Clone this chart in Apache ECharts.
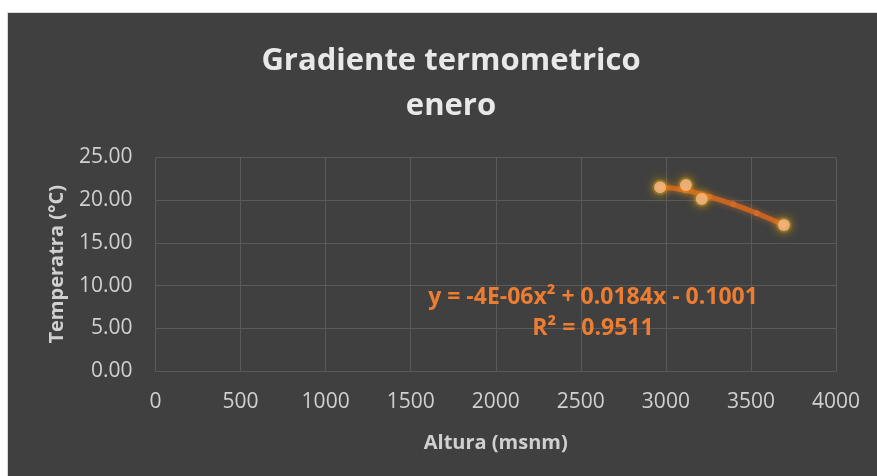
<!DOCTYPE html>
<html>
<head>
<meta charset="utf-8">
<script src="https://cdn.jsdelivr.net/npm/echarts@6/dist/echarts.min.js"></script>
<style>
html,body{margin:0;padding:0;background:#fff;}
#c{width:877px;height:476px;}
</style>
</head>
<body>
<div id="c"></div>
<script>
// Observed data (altitude m, temperature °C)
const altitudes = [2966, 3118, 3211, 3694];
const temperatures = [21.51, 21.78, 20.14, 17.10];
// Polynomial trendline
const trendAltitudes = [2966, 3117, 3255, 3396, 3534, 3694];
const trendTemps = [21.55, 21.16, 20.41, 19.52, 18.47, 17.10];
// Axis ticks
const xTicks = [0, 500, 1000, 1500, 2000, 2500, 3000, 3500, 4000];
const yTicks = [0, 5, 10, 15, 20, 25];
const titleText = 'Gradiente termometrico\nenero';
const xName = 'Altura (msnm)';
const yName = 'Temperatra (°C)';
const eqText = 'y = -4E-06x² + 0.0184x - 0.1001';
const r2Text = 'R² = 0.9511';

const chart = echarts.init(document.getElementById('c'), null, {renderer: 'canvas'});
const F = '"Open Sans", "Noto Sans", sans-serif';
const gridColor = '#5a5a5a';
const labelColor = '#d0d0d0';
const points = altitudes.map((x, i) => [x, temperatures[i]]);

const option = {
  backgroundColor: '#ffffff',
  animation: false,
  graphic: [
    {type: 'rect', z: -100, shape: {x: 7, y: 12, width: 870, height: 464}, style: {fill: '#d9d9d9'}},
    {type: 'rect', z: -99, shape: {x: 8, y: 13, width: 869, height: 463}, style: {fill: '#404040'}},
    {type: 'text', z: 100, x: 593, y: 297, style: {text: eqText, fill: '#ED7D31', font: 'bold 23px ' + F, align: 'center', verticalAlign: 'middle'}},
    {type: 'text', z: 100, x: 593, y: 328, style: {text: r2Text, fill: '#ED7D31', font: 'bold 23px ' + F, align: 'center', verticalAlign: 'middle'}}
  ],
  title: {
    text: titleText,
    left: 446,
    top: 34,
    textAlign: 'center',
    textStyle: {color: '#e8e8e8', fontFamily: F, fontWeight: 'bold', fontSize: 31, lineHeight: 45}
  },
  grid: {left: 155.5, right: 41, top: 157.5, bottom: 105, containLabel: false},
  xAxis: {
    type: 'value',
    min: xTicks[0], max: xTicks[xTicks.length - 1], interval: 500,
    name: xName, nameLocation: 'middle', nameGap: 62,
    nameTextStyle: {color: labelColor, fontFamily: F, fontWeight: 'bold', fontSize: 20},
    axisLine: {show: true, lineStyle: {color: gridColor, width: 1}},
    axisTick: {show: false},
    axisLabel: {color: labelColor, fontFamily: F, fontSize: 21, margin: 21, formatter: v => String(v)},
    splitLine: {show: true, lineStyle: {color: gridColor, width: 1}}
  },
  yAxis: {
    type: 'value',
    min: yTicks[0], max: yTicks[yTicks.length - 1], interval: 5,
    name: yName, nameLocation: 'middle', nameGap: 88, nameRotate: 90,
    nameTextStyle: {color: labelColor, fontFamily: F, fontWeight: 'bold', fontSize: 20},
    axisLine: {show: false},
    axisTick: {show: false},
    axisLabel: {color: labelColor, fontFamily: F, fontSize: 21, margin: 23, formatter: v => v.toFixed(2)},
    splitLine: {show: true, lineStyle: {color: gridColor, width: 1}}
  },
  series: [
    {
      type: 'scatter',
      data: points,
      symbol: 'circle',
      symbolSize: 16,
      itemStyle: {color: 'rgba(200,150,20,0.3)', shadowBlur: 14, shadowColor: 'rgba(230,170,0,0.9)'},
      z: 1,
      silent: true
    },
    {
      type: 'line',
      data: trendAltitudes.map((x, i) => [x, trendTemps[i]]),
      smooth: true,
      symbol: 'circle',
      symbolSize: 6,
      showSymbol: true,
      itemStyle: {color: '#d46a25'},
      lineStyle: {color: '#c8641f', width: 5, shadowBlur: 6, shadowColor: 'rgba(237,125,49,0.5)'},
      z: 2,
      silent: true
    },
    {
      type: 'scatter',
      data: points,
      symbol: 'circle',
      symbolSize: 12,
      itemStyle: {color: '#f9b98a', shadowBlur: 8, shadowColor: 'rgba(255,190,0,0.9)'},
      z: 3
    }
  ]
};
chart.setOption(option);
</script>
</body>
</html>
